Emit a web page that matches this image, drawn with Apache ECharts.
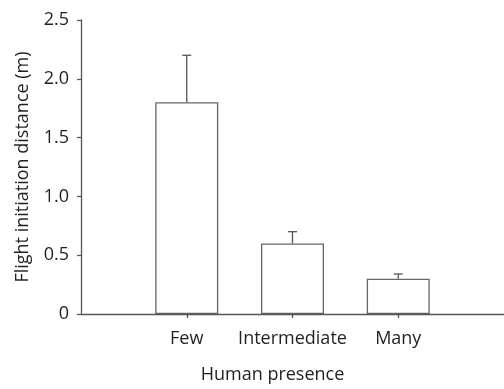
<!DOCTYPE html>
<html><head><meta charset="utf-8">
<script src="https://cdn.jsdelivr.net/npm/echarts@6/dist/echarts.min.js"></script>
<style>html,body{margin:0;padding:0;background:#fff}#c{width:504px;height:389px}</style>
</head><body><div id="c"></div>
<script>
const categories = ['Few', 'Intermediate', 'Many'];
const means = [1.8, 0.6, 0.3];
const errUpper = [2.2, 0.7, 0.34];
const yTicks = [0, 0.5, 1.0, 1.5, 2.0, 2.5];

const positions = categories.map((_, i) => i + 1);
const font = 'Open Sans';
const fs = 18;
const chart = echarts.init(document.getElementById('c'));
chart.setOption({
  animation: false,
  grid: { left: 81, right: 0, top: 20, bottom: 71 },
  xAxis: {
    type: 'value', min: 0, max: categories.length + 1, interval: 1,
    name: 'Human presence', nameLocation: 'middle', nameGap: 52,
    nameTextStyle: { fontFamily: font, fontSize: fs, color: '#231f20', padding: [0, 40, 0, 0] },
    axisLine: { lineStyle: { color: '#555', width: 1.3 } },
    axisTick: { show: true, length: 4, customValues: positions, lineStyle: { color: '#555', width: 1.3 } },
    axisLabel: { customValues: positions, formatter: v => categories[Math.round(v) - 1] || '', margin: 16,
      fontFamily: font, fontSize: fs, color: '#231f20' },
    splitLine: { show: false },
    z: 10
  },
  yAxis: {
    type: 'value', min: 0, max: 2.5, interval: 0.5,
    name: 'Flight initiation distance (m)', nameLocation: 'middle', nameGap: 49,
    nameTextStyle: { fontFamily: font, fontSize: fs, color: '#231f20' },
    axisLine: { show: true, lineStyle: { color: '#555', width: 1.3 } },
    axisTick: { show: true, length: 4, customValues: yTicks, lineStyle: { color: '#555', width: 1.3 } },
    axisLabel: { customValues: yTicks, formatter: v => v === 0 ? '0' : v.toFixed(1), margin: 12,
      fontFamily: font, fontSize: fs, color: '#231f20' },
    splitLine: { show: false }
  },
  series: [
    {
      type: 'bar', barWidth: 63,
      data: positions.map((p, i) => [p, means[i]]),
      itemStyle: { color: '#fff', borderColor: '#666', borderWidth: 1.3 }
    },
    {
      type: 'custom',
      data: positions.map((p, i) => [p, means[i], errUpper[i]]),
      renderItem: (params, api) => {
        const x = api.value(0);
        const base = api.coord([x, api.value(1)]);
        const top = api.coord([x, api.value(2)]);
        const cap = 4.5;
        return {
          type: 'group',
          children: [
            { type: 'line', shape: { x1: base[0], y1: base[1], x2: top[0], y2: top[1] }, style: { stroke: '#555', lineWidth: 1.3 } },
            { type: 'line', shape: { x1: top[0] - cap, y1: top[1], x2: top[0] + cap, y2: top[1] }, style: { stroke: '#555', lineWidth: 1.3 } }
          ]
        };
      }
    }
  ]
});
</script></body></html>
